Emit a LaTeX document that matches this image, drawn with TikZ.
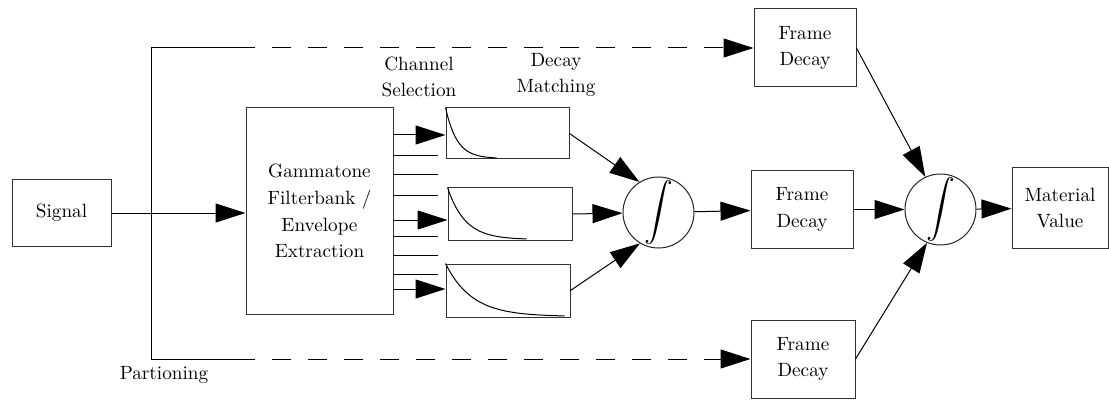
\documentclass[tikz,border=0pt]{standalone}
\usepackage{amsmath}
\usepackage{fontspec}
\usetikzlibrary{arrows.meta}

\begin{document}
\begin{tikzpicture}[x=0.5pt,y=-0.5pt,>={Triangle[length=15pt,width=9.5pt]},line width=0.5pt]
\fontsize{9.6pt}{13.4pt}\selectfont
\tikzstyle{arrow}=[->]
\tikzstyle{box}=[draw=black!80,inner sep=0pt,align=center]
\tikzstyle{integ}=[draw=black!85,circle,minimum size=35.5pt,inner sep=0pt]
\tikzstyle{label}=[inner sep=0pt,align=center]
	\useasboundingbox (0,0) rectangle (1109,401);

	\node[box,minimum width=49.5pt,minimum height=33pt] (signal) at (61.5,213) {Signal};
	\node[box,minimum width=73.5pt,minimum height=103pt] (gamma) at (319.5,211) {Gammatone\\Filterbank /\\Envelope\\Extraction};

	\node[box,minimum width=61.5pt,minimum height=25.5pt] (d1) at (507.5,133.5) {};
	\node[box,minimum width=62pt,minimum height=26pt] (d2) at (510,214) {};
	\node[box,minimum width=62pt,minimum height=26.5pt] (d3) at (508,290.5) {};

	\node[integ] (integ1) at (658.5,212.5) {\fontsize{14pt}{14pt}\selectfont$\displaystyle\int$};
	\node[integ] (integ2) at (940.5,209.5) {\fontsize{14pt}{14pt}\selectfont$\displaystyle\int$};

	\node[box,minimum width=51pt,minimum height=39pt] (ftop) at (805,48) {Frame\\Decay};
	\node[box,minimum width=51pt,minimum height=38.5pt] (fmid) at (802,209.5) {Frame\\Decay};
	\node[box,minimum width=52pt,minimum height=39pt] (fbot) at (803,359) {Frame\\Decay};

	\node[box,minimum width=48pt,minimum height=40pt] (mat) at (1060,208) {Material\\Value};

	\node[label] (chsel) at (419,77) {Channel\\Selection};
	\node[label] (dmatch) at (556,75) {Decay\\Matching};
	\node[label] (part) at (164,375) {Partioning};

	% decay curves
	\draw[shift={(d1.north west)}] plot[domain=0:51,samples=40,smooth] (\x,{51*(1-exp(-4.5*\x/51))});
	\draw[shift={(d2.north west)}] plot[domain=0:79,samples=40,smooth] (\x,{52*(1-exp(-4.5*\x/79))});
	\draw[shift={(d3.north west)}] plot[domain=0:119,samples=40,smooth] (\x,{53*(1-exp(-4.5*\x/119))});

	% partitioning
	\coordinate (split) at (151,213);
	\coordinate (ptop) at (151,48);
	\coordinate (pbot) at (151,359);
	\coordinate (dtop) at (255,48);
	\coordinate (dbot) at (255,359);
	\draw[arrow] (signal.east) -- (signal.east -| gamma.west);
	\draw (ptop) -- (pbot);
	\draw (ptop) -- (dtop);
	\draw (pbot) -- (dbot);
	\draw[arrow,dash pattern=on 9.5pt off 8.5pt,dash phase=9.5pt] (dtop) -- (ftop.west);
	\draw[arrow,dash pattern=on 9.5pt off 8.5pt,dash phase=9.5pt] (dbot) -- (fbot.west);

	% channels
	\draw[arrow] (gamma.east |- 0,135) -- (d1.west |- 0,135);
	\draw (gamma.east |- 0,156) -- ++(44,0);
	\draw (gamma.east |- 0,175) -- ++(44,0);
	\draw (gamma.east |- 0,196) -- ++(44,0);
	\draw[arrow] (gamma.east |- 0,220) -- (d2.west |- 0,220);
	\draw (gamma.east |- 0,236) -- ++(44,0);
	\draw (gamma.east |- 0,255) -- ++(44,0);
	\draw (gamma.east |- 0,274) -- ++(44,0);
	\draw[arrow] (gamma.east |- 0,289) -- (d3.west |- 0,289);

	\draw[arrow] (d1.east) -- (integ1.122);
	\draw[arrow] (d2.east) -- (integ1);
	\draw[arrow] (d3.east) -- (integ1.239);
	\draw[arrow] (integ1) -- (fmid);

	\draw[arrow] (ftop.east) -- (integ2.115);
	\draw[arrow] (fmid) -- (integ2);
	\draw[arrow] (fbot.east) -- (integ2.248);
	\draw[arrow] (integ2) -- (mat);
\end{tikzpicture}
\end{document}
